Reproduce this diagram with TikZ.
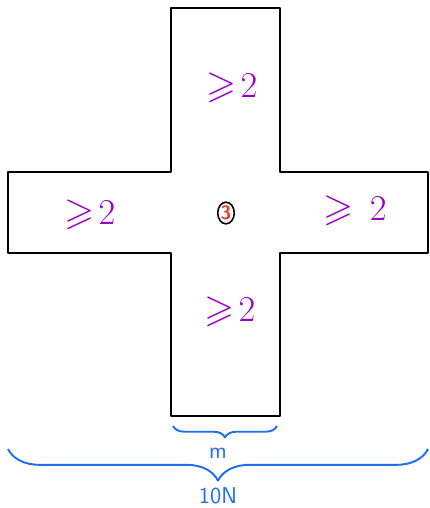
\documentclass[tikz,border=0pt]{standalone}
\usepackage{amsmath}
\usepackage{amssymb}
\usetikzlibrary{decorations.pathreplacing,shapes}
\definecolor{penviolet}{RGB}{155,0,200}
\definecolor{penblue}{RGB}{30,110,240}
\definecolor{penred}{RGB}{235,60,40}

\begin{document}
\begin{tikzpicture}[x=0.02cm,y=-0.02cm,line join=round]
        \tikzstyle{bound}=[penviolet, font=\fontsize{22}{24}\selectfont]
        \tikzstyle{brc}=[penblue, line width=1.1pt, decorate, decoration={brace, mirror, amplitude=#1}]
        \tikzstyle{brclabel}=[penblue, font=\sffamily\fontsize{13}{15}\selectfont]

        \useasboundingbox (0,0) rectangle (430,508);

        % the cross
        \draw[line width=1.1pt] (171,8) -- (280,8) -- (280,172) -- (428,172) -- (428,253)
              -- (280,253) -- (280,416) -- (171,416) -- (171,253) -- (8,253) -- (8,172)
              -- (171,172) -- cycle;

        \node[bound] (up)    at (232,88)  {$\geqslant\!2$};
        \node[bound] (left)  at (90,215)  {$\geqslant\!2$};
        \node[bound] (right) at (355,211) {$\geqslant\,2$};
        \node[bound] (down)  at (230,312) {$\geqslant\!2$};

        \node[draw, ellipse, line width=0.9pt, inner sep=0.3pt, text=penred,
              font=\sffamily\bfseries\fontsize{11}{12}\selectfont] (mid) at (226,213) {3};

        % widths
        \coordinate (ml) at (173,426);
        \coordinate (mr) at (277,426);
        \coordinate (nl) at (8,449);
        \coordinate (nr) at (428,449);
        \draw[brc=6.5pt] (ml) -- (mr);
        \draw[brc=18pt] (nl) -- (nr);
        \node[brclabel] (m) at (218,453) {m};
        \node[brclabel] (n) at (218,496) {10N};
\end{tikzpicture}
\end{document}
